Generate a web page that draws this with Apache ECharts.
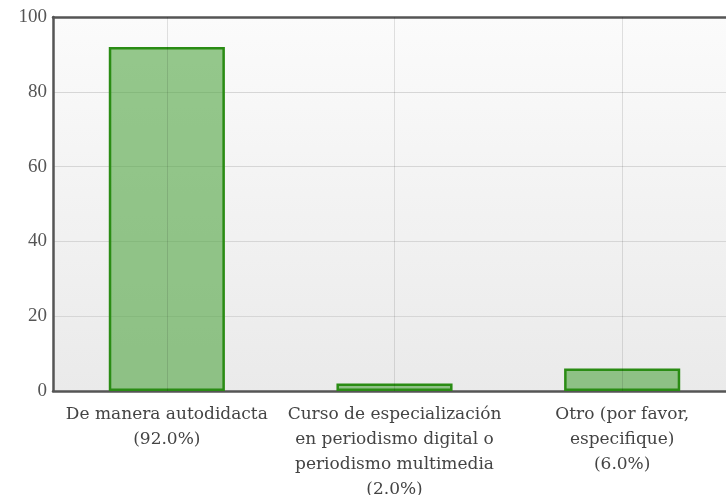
<!DOCTYPE html>
<html>
<head>
<meta charset="utf-8">
<script src="https://cdn.jsdelivr.net/npm/echarts@6/dist/echarts.min.js"></script>
<style>
  html, body { margin: 0; padding: 0; background: #ffffff; }
  #chart { width: 726px; height: 495px; }
</style>
</head>
<body>
<div id="chart"></div>
<script>
// Answer options, each split over lines the way the axis prints them
const categories = [
  'De manera autodidacta',
  'Curso de especialización\nen periodismo digital o\nperiodismo multimedia',
  'Otro (por favor,\nespecifique)'
];
// Share of respondents per option (%)
const values = [92.0, 2.0, 6.0];
const yTicks = [0, 20, 40, 60, 80, 100];

const frameLine = { color: '#555555', width: 2.5 };

const chart = echarts.init(document.getElementById('chart'), null, { renderer: 'canvas' });

chart.setOption({
  animation: false,
  grid: {
    left: 53, top: 17, right: -10, bottom: 104,
    outerBoundsMode: 'none',
    containLabel: false,
    show: true,
    borderWidth: 0,
    backgroundColor: new echarts.graphic.LinearGradient(0, 0, 0, 1, [
      { offset: 0, color: '#fbfbfb' },
      { offset: 1, color: '#eaeaea' }
    ])
  },
  xAxis: [
    {
      type: 'category',
      data: categories,
      boundaryGap: true,
      position: 'bottom',
      axisLine: { show: true, lineStyle: frameLine },
      axisTick: { show: false },
      splitLine: { show: false },
      axisLabel: {
        interval: 0,
        margin: 11,
        color: '#444444',
        fontFamily: '"DejaVu Serif", serif',
        fontSize: 17,
        lineHeight: 25,
        align: 'center',
        formatter: (name, i) => name + '\n(' + values[i].toFixed(1) + '%)'
      }
    },
    {
      // top edge of the plot frame
      type: 'category',
      data: categories,
      position: 'top',
      axisLine: { show: true, lineStyle: frameLine },
      axisTick: { show: false },
      axisLabel: { show: false },
      splitLine: { show: false }
    }
  ],
  yAxis: {
    type: 'value',
    min: yTicks[0],
    max: yTicks[yTicks.length - 1],
    interval: 20,
    axisLine: { show: true, lineStyle: frameLine },
    axisTick: { show: false },
    splitLine: { show: true, lineStyle: { color: '#d6d6d6', width: 1 } },
    axisLabel: {
      margin: 6,
      padding: [5, 0, 0, 0],
      color: '#555555',
      fontFamily: '"Liberation Serif", serif',
      fontSize: 19
    }
  },
  series: [
    {
      type: 'bar',
      data: values,
      z: 3,
      barWidth: '51%',
      itemStyle: {
        color: 'rgba(80,165,65,0.6)',
        borderColor: '#2a8c14',
        borderWidth: 2.5
      },
      // vertical guide line through each category centre
      markLine: {
        symbol: 'none',
        silent: true,
        label: { show: false },
        emphasis: { disabled: true },
        lineStyle: { color: 'rgba(0,0,0,0.11)', width: 1, type: 'solid' },
        data: categories.map(c => ({ xAxis: c }))
      }
    }
  ]
});
</script>
</body>
</html>
